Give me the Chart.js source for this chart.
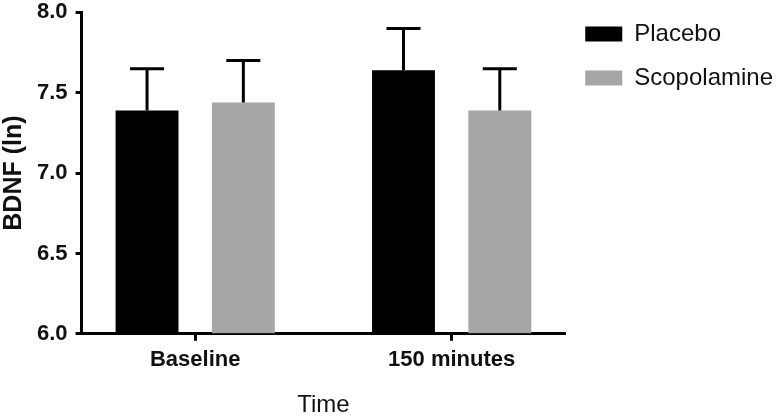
<!DOCTYPE html>
<html>
<head>
<meta charset="utf-8">
<script src="https://cdn.jsdelivr.net/npm/chart.js@4.4.0/dist/chart.umd.min.js"></script>
<style>
  html, body { margin: 0; padding: 0; background: #fff; }
  #wrap { width: 782px; height: 418px; position: relative; }
</style>
</head>
<body>
<div id="wrap"><canvas id="chart"></canvas></div>
<script>
const categories = ["Baseline", "150 minutes"];
const placebo = [7.39, 7.64];
const placeboErr = [7.65, 7.90];
const scopolamine = [7.44, 7.39];
const scopolamineErr = [7.70, 7.65];
const yTicks = [6.0, 6.5, 7.0, 7.5, 8.0];

const FONT = "'Liberation Sans', Arial, Helvetica, sans-serif";

const toPoints = (vals) => vals.map((v, i) => ({ x: i, y: v }));

// draws the upper error bar (stem + cap) for every bar
const errorBars = {
  id: "errorBars",
  afterDatasetsDraw(chart) {
    const ctx = chart.ctx;
    const yScale = chart.scales.y;
    chart.data.datasets.forEach((ds, di) => {
      const meta = chart.getDatasetMeta(di);
      meta.data.forEach((bar, i) => {
        const top = yScale.getPixelForValue(ds.errTop[i]);
        ctx.save();
        ctx.strokeStyle = "#000";
        ctx.lineWidth = 3;
        ctx.beginPath();
        ctx.moveTo(bar.x, bar.y);
        ctx.lineTo(bar.x, top);
        ctx.moveTo(bar.x - 17, top);
        ctx.lineTo(bar.x + 17, top);
        ctx.stroke();
        ctx.restore();
      });
    });
  },
};

// let the legend use the free space up to the canvas edge so its text isn't clipped
const wideLegend = {
  id: "wideLegend",
  afterLayout(chart) {
    const lg = chart.legend;
    if (lg) {
      lg.right = chart.width;
      lg.width = lg.right - lg.left;
    }
  },
};

new Chart(document.getElementById("chart"), {
  type: "bar",
  data: {
    datasets: [
      {
        label: "Placebo",
        data: toPoints(placebo),
        errTop: placeboErr,
        backgroundColor: "#000000",
        borderWidth: 0,
        base: 6,
        barPercentage: 0.653,
        categoryPercentage: 0.751,
      },
      {
        label: "Scopolamine",
        data: toPoints(scopolamine),
        errTop: scopolamineErr,
        backgroundColor: "#a6a6a6",
        borderWidth: 0,
        base: 6,
        barPercentage: 0.653,
        categoryPercentage: 0.751,
      },
    ],
  },
  options: {
    responsive: true,
    maintainAspectRatio: false,
    animation: false,
    layout: { padding: { top: 2, right: 28, bottom: 0, left: -1 } },
    plugins: {
      tooltip: { enabled: false },
      legend: {
        position: "right",
        align: "start",
        labels: {
          boxWidth: 37,
          boxHeight: 15,
          padding: 20,
          color: "#111",
          font: { family: FONT, size: 24 },
        },
      },
    },
    scales: {
      x: {
        type: "linear",
        min: -0.443,
        max: 1.443,
        offset: false,
        afterBuildTicks: (scale) => {
          scale.ticks = categories.map((c, i) => ({ value: i }));
        },
        ticks: {
          callback: (v) => categories[v],
          color: "#111",
          padding: 6,
          maxRotation: 0,
          font: { family: FONT, size: 22, weight: "bold" },
        },
        grid: {
          offset: false,
          drawOnChartArea: false,
          drawTicks: true,
          tickLength: 7,
          tickWidth: 3,
          tickColor: "#000",
        },
        border: { display: true, color: "#000", width: 3 },
        title: {
          display: true,
          text: "Time",
          color: "#111",
          padding: { top: 12, bottom: -2 },
          font: { family: FONT, size: 24 },
        },
      },
      y: {
        min: 6,
        max: 8,
        afterBuildTicks: (scale) => {
          scale.ticks = yTicks.map((v) => ({ value: v }));
        },
        ticks: {
          callback: (v) => v.toFixed(1),
          color: "#111",
          padding: 8,
          font: { family: FONT, size: 22, weight: "bold", lineHeight: 0.4 },
        },
        grid: {
          drawOnChartArea: false,
          drawTicks: true,
          tickLength: 6,
          tickWidth: 3,
          tickColor: "#000",
        },
        border: { display: true, color: "#000", width: 3 },
        title: {
          display: true,
          text: "BDNF (ln)",
          color: "#111",
          padding: { top: 0, bottom: 0 },
          font: { family: FONT, size: 25, weight: "bold" },
        },
      },
    },
  },
  plugins: [errorBars, wideLegend],
});
</script>
</body>
</html>
